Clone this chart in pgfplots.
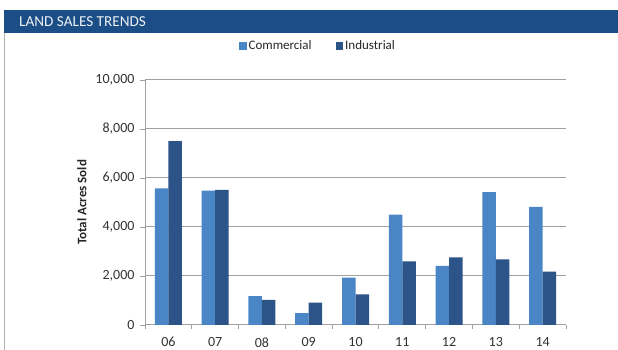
\documentclass[border=0pt]{standalone}
\usepackage{fontspec}
\setmainfont{Carlito}
\usepackage{pgfplots}
\pgfplotsset{compat=1.18}
\definecolor{headblue}{RGB}{27,78,134}
\definecolor{combl}{RGB}{74,134,197}
\definecolor{indbl}{RGB}{44,84,137}
\definecolor{gridg}{RGB}{160,160,160}
\begin{document}
\begin{tikzpicture}
\path[use as bounding box] (0pt,0pt) rectangle (618pt,350pt);
\fill[white] (0pt,0pt) rectangle (618pt,350pt);
\fill[headblue] (4pt,317pt) rectangle (618pt,340pt);
\draw[gray!60, line width=0.8pt] (4pt,317pt) -- (4pt,0pt);
\node[anchor=west, inner sep=0pt, text=white!92!headblue, font=\fontsize{15.2}{17}\selectfont] at (19pt,328.5pt) {LAND SALES TRENDS};
\begin{axis}[
  at={(145pt,25pt)}, anchor=south west,
  scale only axis, width=421pt, height=245pt,
  ybar, bar width=13.5pt,
  xmin=-0.5, xmax=8.5, ymin=0, ymax=10000,
  xtick={0,...,8}, xticklabels={06,07,08,09,10,11,12,13,14},
  minor xtick={-0.5,0.5,...,8.5},
  major x tick style={draw=none},
  minor tick length=4pt,
  ytick={0,2000,...,10000},
  major tick length=5pt,
  tick align=outside, tick pos=lower,
  tick style={gridg, line width=0.9pt},
  ymajorgrids, grid style={gridg, line width=1pt},
  axis x line*=bottom, axis y line*=left,
  axis line style={gridg, line width=1pt},
  scaled y ticks=false,
  /pgf/number format/.cd, fixed, 1000 sep={,}, assume math mode=true,
  /pgfplots/.cd,
  tick label style={font=\fontsize{14}{16}\selectfont, text=black!80},
  yticklabel style={xshift=-2pt},
  xticklabel style={yshift=-4pt},
  ylabel={Total Acres Sold},
  ylabel style={at={(axis description cs:-0.15,0.5)}, anchor=center, font=\bfseries\fontsize{13}{15}\selectfont, text=black!85},
  legend columns=2,
  legend style={at={(axis description cs:0.411,1.139)}, anchor=center, draw=none, fill=none,
    font=\fontsize{13}{15}\selectfont, text=black!85,
    /tikz/every even column/.append style={column sep=22pt}},
  legend cell align=left,
]
\addplot[fill=combl, draw=none, bar shift=-6.75pt,
  legend image code/.code={\fill[combl] (0pt,-3.7pt) rectangle (7.5pt,3.7pt);}]
  coordinates {(0,5580) (1,5480) (2,1180) (3,480) (4,1930) (5,4500) (6,2410) (7,5420) (8,4820)};
\addplot[fill=indbl, draw=none, bar shift=6.75pt,
  legend image code/.code={\fill[indbl] (0pt,-3.7pt) rectangle (7.5pt,3.7pt);}]
  coordinates {(0,7500) (1,5520) (2,1030) (3,910) (4,1250) (5,2600) (6,2760) (7,2680) (8,2180)};
\legend{Commercial,Industrial}
\end{axis}
\end{tikzpicture}
\end{document}
